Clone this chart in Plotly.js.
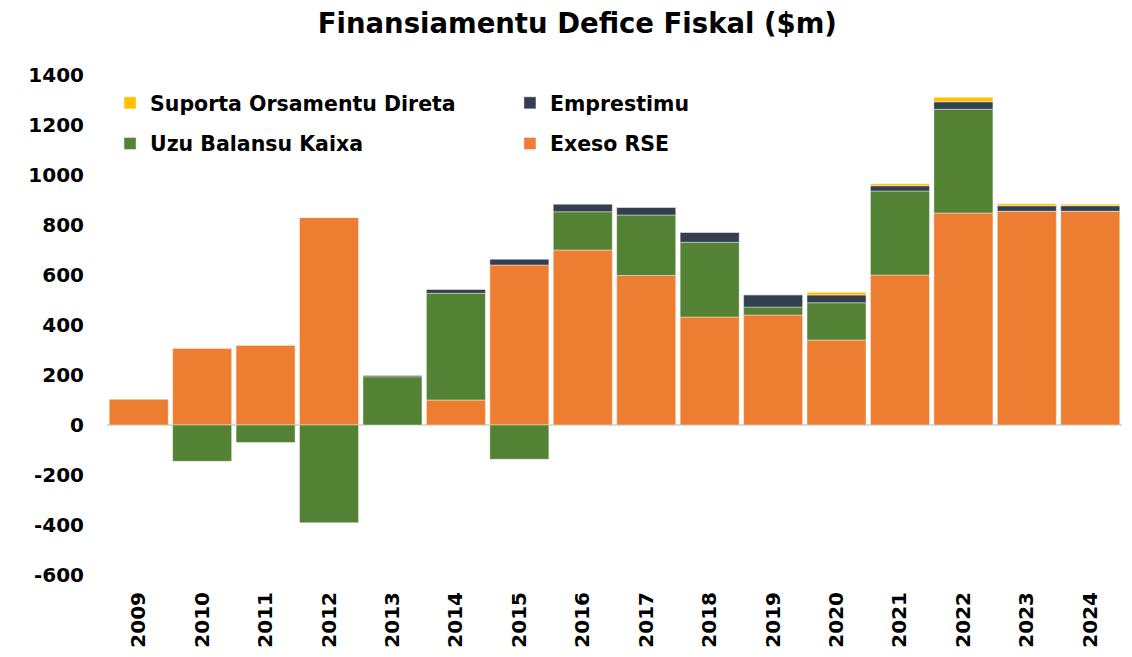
<!DOCTYPE html>
<html><head><meta charset="utf-8">
<script src="https://cdn.plot.ly/plotly-3.0.1.min.js"></script>
<style>html,body{margin:0;padding:0;background:#fff}#chart{width:1132px;height:657px}</style>
</head><body><div id="chart"></div>
<script>
const years = ["2009","2010","2011","2012","2013","2014","2015","2016","2017","2018","2019","2020","2021","2022","2023","2024"];
const exesoRSE    = [105, 308, 320, 830, 0, 100, 640, 700, 598, 432, 440, 340, 600, 848, 855, 855];
const uzuBalansu  = [0, -145, -70, -391, 193, 427, -137, 153, 242, 299, 32, 149, 336, 415, 0, 0];
const emprestimu  = [0, 0, 0, 0, 6, 16, 24, 31, 31, 40, 49, 31, 21, 30, 22, 22];
const suporta     = [0, 0, 0, 0, 0, 0, 0, 0, 0, 0, 0, 11, 8, 18, 8, 6];
const yTicks = [-600,-400,-200,0,200,400,600,800,1000,1200,1400];

const FONT = "'DejaVu Sans', sans-serif";
function tr(name, y, color, leg, rank){
  return {type:'bar', name:name, x:years, y:y, legend:leg, legendgroup:name, legendrank:rank,
    marker:{color:color, line:{color:'rgba(255,255,255,0.5)', width:0.8}},
    hoverinfo:'x+y+name'};
}
const data = [
  tr('Exeso RSE', exesoRSE, '#ED7D31', 'legend2', 2),
  tr('Uzu Balansu Kaixa', uzuBalansu, '#548235', 'legend', 2),
  tr('Emprestimu', emprestimu, '#333F50', 'legend2', 1),
  tr('Suporta Orsamentu Direta', suporta, '#FFC000', 'legend', 1)
];
const legFont = {family:FONT, size:20.5, color:'#000', weight:'bold'};
const layout = {
  width:1132, height:657,
  margin:{l:107, r:10, t:75, b:82},
  paper_bgcolor:'#fff', plot_bgcolor:'#fff',
  barmode:'relative', bargap:0.07,
  title:{text:'Finansiamentu Defice Fiskal ($m)', x:0.51, xanchor:'center', y:0.965, yanchor:'middle',
    font:{family:FONT, size:27.5, color:'#000', weight:'bold'}},
  font:{family:FONT, color:'#000'},
  xaxis:{type:'category', tickangle:-90, showgrid:false, showline:false, ticks:'',
    tickfont:{family:FONT, size:20, color:'#000', weight:'bold'}, ticklabelstandoff:12,
    zeroline:false},
  yaxis:{range:[-600,1400], tickvals:yTicks, ticktext:yTicks.map(String), showgrid:false,
    zeroline:true, zerolinecolor:'#d9d9d9', zerolinewidth:2, showline:false, ticks:'',
    tickfont:{family:FONT, size:20, color:'#000', weight:'bold'}, ticklabelstandoff:22},
  showlegend:true,
  legend:{orientation:'v', x:0.003, y:0.984, xanchor:'left', yanchor:'top',
    traceorder:'grouped', tracegroupgap:11,
    font:legFont, bgcolor:'rgba(0,0,0,0)', itemwidth:30},
  legend2:{orientation:'v', x:0.397, y:0.984, xanchor:'left', yanchor:'top',
    traceorder:'grouped', tracegroupgap:11,
    font:legFont, bgcolor:'rgba(0,0,0,0)', itemwidth:30}
};
Plotly.newPlot('chart', data, layout, {displayModeBar:false, staticPlot:true});
</script></body></html>
